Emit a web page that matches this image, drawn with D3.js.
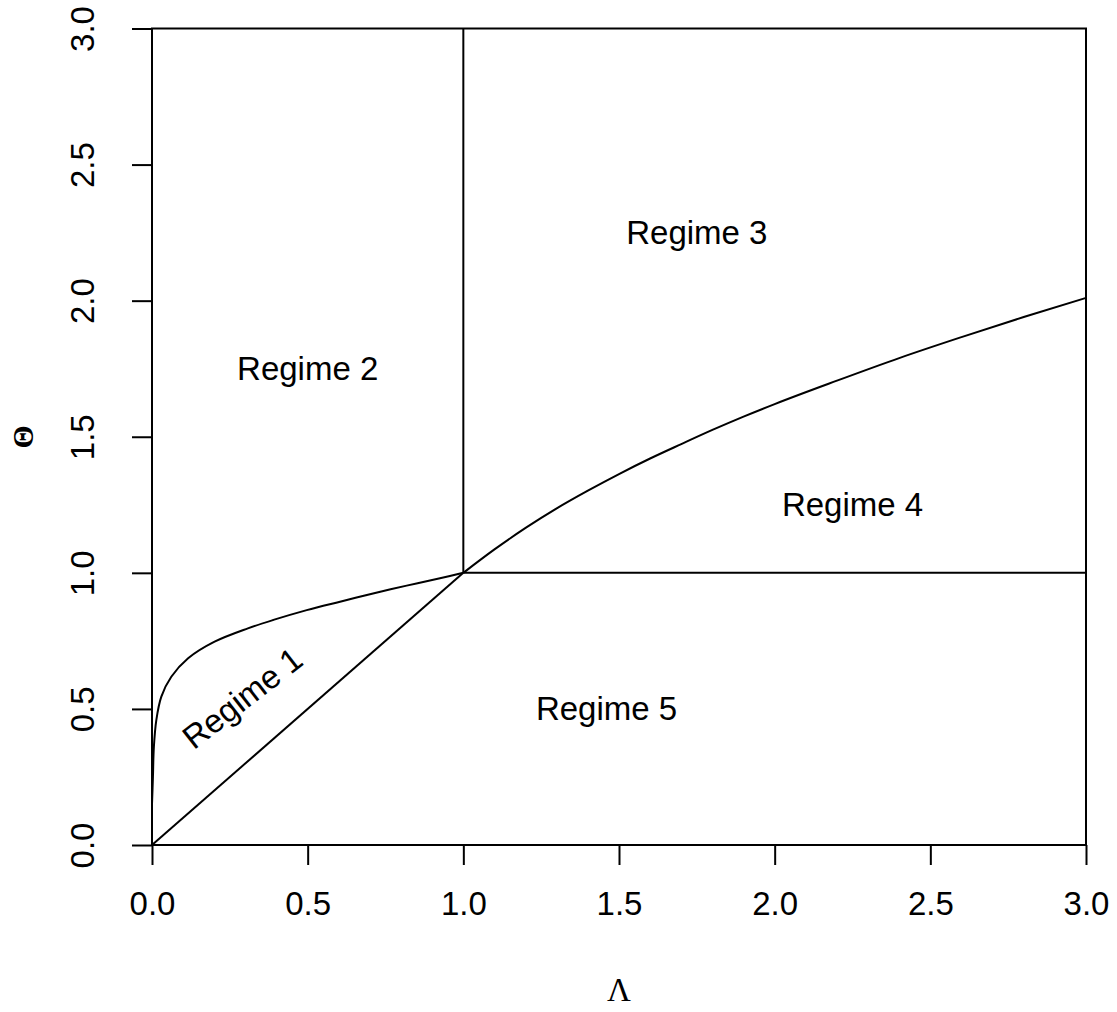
<!DOCTYPE html>
<html>
<head>
<meta charset="utf-8">
<script src="https://cdn.jsdelivr.net/npm/d3@7"></script>
<style>
  body { margin: 0; background: #ffffff; }
  svg text { fill: #000; }
</style>
</head>
<body>
<svg id="chart" width="1117" height="1012"></svg>
<script>
// Axis ticks
const lambdaTicks = [0, 0.5, 1, 1.5, 2, 2.5, 3];
const thetaTicks = [0, 0.5, 1, 1.5, 2, 2.5, 3];

// Regime boundary curve for Λ <= 1
const lowLambda = [0, 0.003, 0.006, 0.014, 0.03, 0.062, 0.116, 0.201, 0.308, 0.39, 0.497, 0.604, 0.71, 0.818, 0.925, 1];
const lowTheta  = [0.15, 0.25, 0.36, 0.46, 0.545, 0.618, 0.686, 0.747, 0.796, 0.827, 0.863, 0.894, 0.924, 0.953, 0.98, 1];

// Regime boundary curve for Λ >= 1
const highLambda = [1, 1.1, 1.2, 1.3, 1.4, 1.5, 1.6, 1.7, 1.8, 1.9, 2.0, 2.2, 2.4, 2.6, 2.8, 3.0];
const highTheta  = [1, 1.086, 1.165, 1.237, 1.302, 1.363, 1.42, 1.473, 1.525, 1.574, 1.62, 1.706, 1.789, 1.866, 1.94, 2.01];

// Straight boundaries
const diagLambda = [0, 1],  diagTheta = [0, 1];
const vertLambda = [1, 1],  vertTheta = [1, 3];
const horizLambda = [1, 3], horizTheta = [1, 1];

// Regime labels
const regimeNames  = ["Regime 1", "Regime 2", "Regime 3", "Regime 4", "Regime 5"];
const regimeLambda = [0.29, 0.5, 1.75, 2.25, 1.46];
const regimeTheta  = [0.54, 1.75, 2.25, 1.25, 0.5];
const regimeAngle  = [-38, 0, 0, 0, 0];

const svg = d3.select("#chart");
const plotLeft = 152, plotRight = 1086, plotTop = 28.5, plotBottom = 845;
const x = d3.scaleLinear().domain([0, 3]).range([plotLeft, plotRight]);
const y = d3.scaleLinear().domain([0, 3]).range([plotBottom, plotTop]);

const sans = "'Liberation Sans', Arial, Helvetica, sans-serif";
const serif = "'Liberation Serif', 'DejaVu Serif', serif";
const fontSize = 33;

const line = d3.line().x(d => x(d[0])).y(d => y(d[1]));
const zip = (a, b) => a.map((v, i) => [v, b[i]]);

const marks = svg.append("g").attr("fill", "none").attr("stroke", "#000").attr("stroke-width", 2);
marks.append("path").attr("d", line.curve(d3.curveCatmullRom.alpha(0.5))(zip(lowLambda, lowTheta)));
marks.append("path").attr("d", line.curve(d3.curveMonotoneX)(zip(highLambda, highTheta)));
marks.append("path").attr("d", line.curve(d3.curveLinear)(zip(diagLambda, diagTheta)));
marks.append("path").attr("d", line.curve(d3.curveLinear)(zip(vertLambda, vertTheta)));
marks.append("path").attr("d", line.curve(d3.curveLinear)(zip(horizLambda, horizTheta)));

// Plot box
svg.append("rect")
  .attr("x", plotLeft).attr("y", plotTop)
  .attr("width", plotRight - plotLeft).attr("height", plotBottom - plotTop)
  .attr("fill", "none").attr("stroke", "#000").attr("stroke-width", 2);

// Bottom axis
const gx = svg.append("g").attr("transform", `translate(0,${plotBottom})`)
  .call(d3.axisBottom(x).tickValues(lambdaTicks).tickSize(20).tickFormat(d3.format(".1f")));
gx.select(".domain").remove();
gx.selectAll(".tick line").attr("stroke", "#000").attr("stroke-width", 2);
gx.selectAll(".tick text")
  .attr("y", 58).attr("dy", "0.35em")
  .attr("font-family", sans).attr("font-size", fontSize).attr("fill", "#000");

// Left axis
const gy = svg.append("g").attr("transform", `translate(${plotLeft},0)`)
  .call(d3.axisLeft(y).tickValues(thetaTicks).tickSize(20).tickFormat(d3.format(".1f")));
gy.select(".domain").remove();
gy.selectAll(".tick line").attr("stroke", "#000").attr("stroke-width", 2);
gy.selectAll(".tick text")
  .attr("x", 0).attr("y", -70).attr("dy", "0.35em")
  .attr("transform", "rotate(-90)")
  .attr("text-anchor", "middle")
  .attr("font-family", sans).attr("font-size", fontSize).attr("fill", "#000");

// Axis titles
svg.append("text")
  .attr("x", (plotLeft + plotRight) / 2).attr("y", 989).attr("dy", "0.35em")
  .attr("text-anchor", "middle")
  .attr("font-family", serif).attr("font-size", fontSize)
  .text("Λ");
svg.append("text")
  .attr("transform", `translate(${22},${(plotTop + plotBottom) / 2}) rotate(-90)`)
  .attr("dy", "0.35em")
  .attr("text-anchor", "middle")
  .attr("font-family", serif).attr("font-size", 30).attr("font-weight", "bold")
  .text("Θ");

// Regime labels
svg.append("g").selectAll("text")
  .data(regimeNames)
  .join("text")
  .attr("transform", (d, i) => `translate(${x(regimeLambda[i])},${y(regimeTheta[i])}) rotate(${regimeAngle[i]})`)
  .attr("dy", "0.35em")
  .attr("text-anchor", "middle")
  .attr("font-family", sans).attr("font-size", fontSize)
  .text(d => d);
</script>
</body>
</html>
